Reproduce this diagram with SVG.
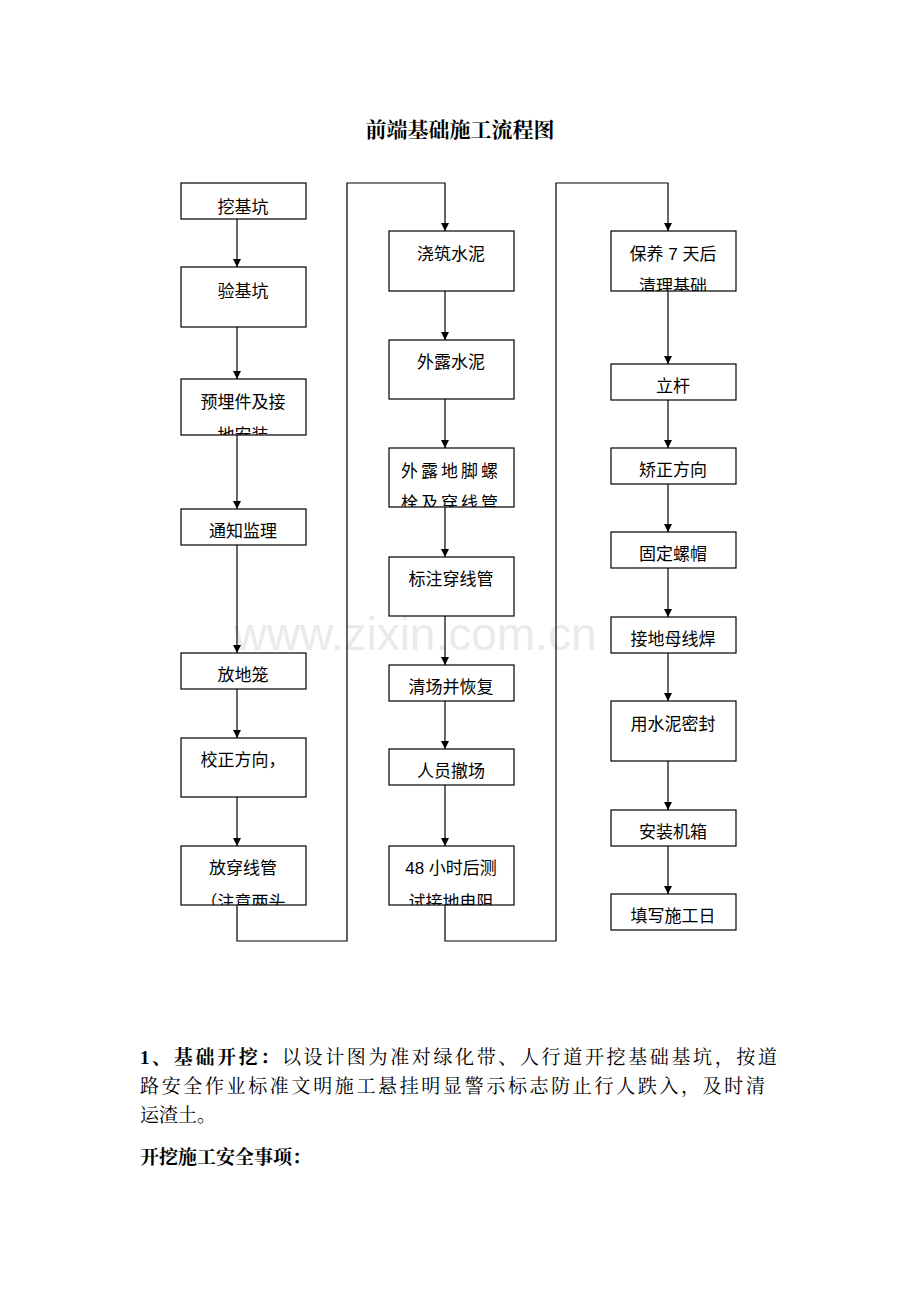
<svg xmlns="http://www.w3.org/2000/svg" width="920" height="1302" viewBox="0 0 920 1302">
<style>
.b{fill:#fff;stroke:#000;stroke-width:1.2}
.t{font-family:"Liberation Sans","Noto Sans CJK SC",sans-serif;font-size:17px;text-anchor:middle;fill:#000}
.c{fill:none;stroke:#000;stroke-width:1.2}
.p{font-family:"Liberation Serif","Noto Serif CJK SC","Noto Sans CJK SC",serif;font-size:19px;fill:#000}
</style>
<defs>
<marker id="a" viewBox="0 0 10 10" refX="10" refY="5" markerWidth="8" markerHeight="8" orient="auto" markerUnits="userSpaceOnUse"><path d="M0,0L10,5L0,10z"/></marker>
<clipPath id="k1"><rect x="181" y="379" width="125" height="56"/></clipPath>
<clipPath id="k2"><rect x="181" y="846" width="125" height="59"/></clipPath>
<clipPath id="k3"><rect x="389" y="448" width="125" height="59"/></clipPath>
<clipPath id="k4"><rect x="389" y="846" width="125" height="59"/></clipPath>
<clipPath id="k5"><rect x="611" y="231" width="125" height="60"/></clipPath>
</defs>
<text x="460" y="137" text-anchor="middle" style="font-family:'Noto Serif CJK SC','Noto Sans CJK SC',serif;font-size:21px;font-weight:bold">前端基础施工流程图</text>
<text x="415" y="650" text-anchor="middle" style="font-family:'Liberation Sans',sans-serif;font-size:46px;fill:#000;opacity:0.08">www.zixin.com.cn</text>
<g id="connectors" class="c">
<path d="M237,219V267" marker-end="url(#a)"/>
<path d="M237,327V379" marker-end="url(#a)"/>
<path d="M237,435V509" marker-end="url(#a)"/>
<path d="M237,545V653" marker-end="url(#a)"/>
<path d="M237,689V738" marker-end="url(#a)"/>
<path d="M237,797V846" marker-end="url(#a)"/>
<path d="M237,905V941H347V183H445V231" marker-end="url(#a)"/>
<path d="M445,291V340" marker-end="url(#a)"/>
<path d="M445,399V448" marker-end="url(#a)"/>
<path d="M445,507V557" marker-end="url(#a)"/>
<path d="M445,616V665" marker-end="url(#a)"/>
<path d="M445,701V749" marker-end="url(#a)"/>
<path d="M445,785V846" marker-end="url(#a)"/>
<path d="M445,905V941H556V183H668V231" marker-end="url(#a)"/>
<path d="M668,291V364" marker-end="url(#a)"/>
<path d="M668,400V448" marker-end="url(#a)"/>
<path d="M668,484V532" marker-end="url(#a)"/>
<path d="M668,568V617" marker-end="url(#a)"/>
<path d="M668,653V701" marker-end="url(#a)"/>
<path d="M668,761V810" marker-end="url(#a)"/>
<path d="M668,846V894" marker-end="url(#a)"/>
</g>
<g id="n1"><rect class="b" x="181" y="183" width="125" height="36"/><text class="t" x="243" y="213">挖基坑</text></g>
<g id="n2"><rect class="b" x="181" y="267" width="125" height="60"/><text class="t" x="243" y="297">验基坑</text></g>
<g id="n3"><rect class="b" x="181" y="379" width="125" height="56"/><g clip-path="url(#k1)"><text class="t" x="243" y="408">预埋件及接</text><text class="t" x="243" y="441">地安装</text></g></g>
<g id="n4"><rect class="b" x="181" y="509" width="125" height="36"/><text class="t" x="243" y="537">通知监理</text></g>
<g id="n5"><rect class="b" x="181" y="653" width="125" height="36"/><text class="t" x="243" y="681">放地笼</text></g>
<g id="n6"><rect class="b" x="181" y="738" width="125" height="59"/><text class="t" x="243" y="766">校正方向，</text></g>
<g id="n7"><rect class="b" x="181" y="846" width="125" height="59"/><g clip-path="url(#k2)"><text class="t" x="243" y="874">放穿线管</text><text class="t" x="243" y="908">（注意两头</text></g></g>
<g id="n8"><rect class="b" x="389" y="231" width="125" height="60"/><text class="t" x="451" y="260">浇筑水泥</text></g>
<g id="n9"><rect class="b" x="389" y="340" width="125" height="59"/><text class="t" x="451" y="368">外露水泥</text></g>
<g id="n10"><rect class="b" x="389" y="448" width="125" height="59"/><g clip-path="url(#k3)"><text class="t" x="451" y="477" letter-spacing="3">外露地脚螺</text><text class="t" x="451" y="509" letter-spacing="3">栓及穿线管</text></g></g>
<g id="n11"><rect class="b" x="389" y="557" width="125" height="59"/><text class="t" x="451" y="585">标注穿线管</text></g>
<g id="n12"><rect class="b" x="389" y="665" width="125" height="36"/><text class="t" x="451" y="693">清场并恢复</text></g>
<g id="n13"><rect class="b" x="389" y="749" width="125" height="36"/><text class="t" x="451" y="777">人员撤场</text></g>
<g id="n14"><rect class="b" x="389" y="846" width="125" height="59"/><g clip-path="url(#k4)"><text class="t" x="451" y="874">48 小时后测</text><text class="t" x="451" y="908">试接地电阻</text></g></g>
<g id="n15"><rect class="b" x="611" y="231" width="125" height="60"/><g clip-path="url(#k5)"><text class="t" x="673" y="260">保养 7 天后</text><text class="t" x="673" y="292">清理基础</text></g></g>
<g id="n16"><rect class="b" x="611" y="364" width="125" height="36"/><text class="t" x="673" y="392">立杆</text></g>
<g id="n17"><rect class="b" x="611" y="448" width="125" height="36"/><text class="t" x="673" y="476">矫正方向</text></g>
<g id="n18"><rect class="b" x="611" y="532" width="125" height="36"/><text class="t" x="673" y="560">固定螺帽</text></g>
<g id="n19"><rect class="b" x="611" y="617" width="125" height="36"/><text class="t" x="673" y="645">接地母线焊</text></g>
<g id="n20"><rect class="b" x="611" y="701" width="125" height="60"/><text class="t" x="673" y="730">用水泥密封</text></g>
<g id="n21"><rect class="b" x="611" y="810" width="125" height="36"/><text class="t" x="673" y="838">安装机箱</text></g>
<g id="n22"><rect class="b" x="611" y="894" width="125" height="36"/><text class="t" x="673" y="922">填写施工日</text></g>
<text class="p" x="140" y="1064" textLength="637" lengthAdjust="spacing"><tspan font-weight="bold">1、基础开挖：</tspan>以设计图为准对绿化带、人行道开挖基础基坑，按道</text>
<text class="p" x="140" y="1093" textLength="625" lengthAdjust="spacing">路安全作业标准文明施工悬挂明显警示标志防止行人跌入，及时清</text>
<text class="p" x="140" y="1122">运渣土。</text>
<text class="p" x="140" y="1164" font-weight="bold">开挖施工安全事项：</text>
</svg>
